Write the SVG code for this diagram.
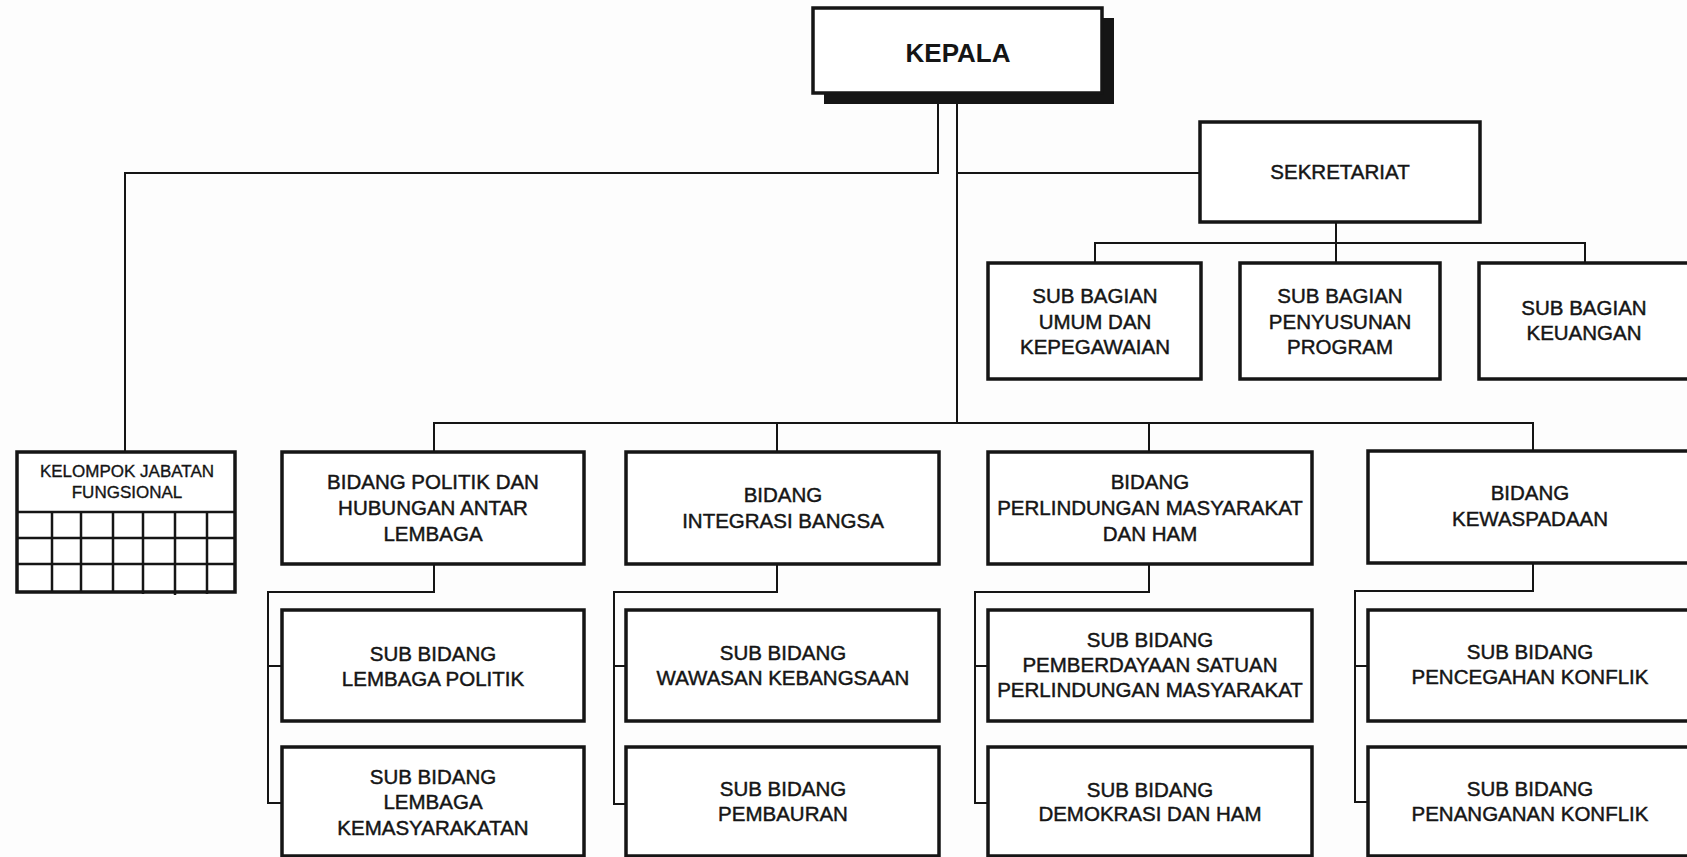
<svg xmlns="http://www.w3.org/2000/svg" width="1687" height="857" viewBox="0 0 1687 857">
<style>
.box{fill:#fff;stroke:#151515;stroke-width:3.5}
.ln{fill:none;stroke:#151515;stroke-width:2}
.grid{fill:none;stroke:#151515;stroke-width:2.5}
.t{font-family:"Liberation Sans",Arial,sans-serif;font-size:20.5px;fill:#151515;stroke:#151515;stroke-width:0.45;text-anchor:middle}
.ts{font-family:"Liberation Sans",Arial,sans-serif;font-size:17px;fill:#151515;stroke:#151515;stroke-width:0.35;text-anchor:middle}
.tb{font-family:"Liberation Sans",Arial,sans-serif;font-size:26px;font-weight:bold;fill:#151515;text-anchor:middle}
</style>
<rect width="1687" height="857" fill="#fdfdfd"/>
<g id="connectors">
<path class="ln" d="M938,93 V173 H125 V452"/>
<path class="ln" d="M957,104 V423"/>
<path class="ln" d="M957,173 H1200"/>
<path class="ln" d="M434,452 V423 H1533 V452 M777,423 V452 M1149,423 V452"/>
<path class="ln" d="M1336,222 V263 M1095,263 V243 H1585 V263"/>
<path class="ln" d="M434,564 V592 H268 V803 H283 M268,666 H283"/>
<path class="ln" d="M777,564 V592 H614 V804 H626 M614,666 H626"/>
<path class="ln" d="M1149,564 V592 H975 V803 H988 M975,666 H988"/>
<path class="ln" d="M1533,562 V591 H1355 V802 H1368 M1355,666 H1368"/>
</g>
<g id="kepala">
<rect x="824" y="18" width="290" height="86" fill="#151515"/>
<rect class="box" x="813" y="8" width="289" height="85"/>
<text class="tb" x="958" y="62">KEPALA</text>
</g>
<g id="sekretariat">
<rect class="box" x="1200" y="122" width="280" height="100"/>
<text class="t" x="1340" y="179">SEKRETARIAT</text>
</g>
<g id="sub-bagian-umum">
<rect class="box" x="988" y="263" width="213" height="116"/>
<text class="t" x="1095" y="303">SUB BAGIAN</text>
<text class="t" x="1095" y="328.5">UMUM DAN</text>
<text class="t" x="1095" y="354">KEPEGAWAIAN</text>
</g>
<g id="sub-bagian-penyusunan">
<rect class="box" x="1240" y="263" width="200" height="116"/>
<text class="t" x="1340" y="303">SUB BAGIAN</text>
<text class="t" x="1340" y="328.5">PENYUSUNAN</text>
<text class="t" x="1340" y="354">PROGRAM</text>
</g>
<g id="sub-bagian-keuangan">
<rect class="box" x="1479" y="263" width="215" height="116"/>
<text class="t" x="1584" y="315">SUB BAGIAN</text>
<text class="t" x="1584" y="340">KEUANGAN</text>
</g>
<g id="kelompok-jabatan">
<rect class="box" x="17" y="452" width="218" height="140"/>
<path class="grid" d="M17,512 H235 M17,538 H235 M17,564 H235 M52,512 V592 M81,512 V592 M113,512 V592 M143,512 V594 M175,512 V595 M207,512 V594"/>
<text class="ts" x="127" y="477">KELOMPOK JABATAN</text>
<text class="ts" x="127" y="498">FUNGSIONAL</text>
</g>
<g id="bidang-politik">
<rect class="box" x="282" y="452" width="302" height="112"/>
<text class="t" x="433" y="489">BIDANG POLITIK DAN</text>
<text class="t" x="433" y="515">HUBUNGAN ANTAR</text>
<text class="t" x="433" y="541">LEMBAGA</text>
</g>
<g id="bidang-integrasi">
<rect class="box" x="626" y="452" width="313" height="112"/>
<text class="t" x="783" y="502">BIDANG</text>
<text class="t" x="783" y="528">INTEGRASI BANGSA</text>
</g>
<g id="bidang-perlindungan">
<rect class="box" x="988" y="452" width="324" height="112"/>
<text class="t" x="1150" y="489">BIDANG</text>
<text class="t" x="1150" y="515">PERLINDUNGAN MASYARAKAT</text>
<text class="t" x="1150" y="541">DAN HAM</text>
</g>
<g id="bidang-kewaspadaan">
<rect class="box" x="1368" y="451" width="330" height="112"/>
<text class="t" x="1530" y="500">BIDANG</text>
<text class="t" x="1530" y="526">KEWASPADAAN</text>
</g>
<g id="sub-lembaga-politik">
<rect class="box" x="282" y="610" width="302" height="111"/>
<text class="t" x="433" y="661">SUB BIDANG</text>
<text class="t" x="433" y="686">LEMBAGA POLITIK</text>
</g>
<g id="sub-lembaga-kemasyarakatan">
<rect class="box" x="282" y="747" width="302" height="109"/>
<text class="t" x="433" y="784">SUB BIDANG</text>
<text class="t" x="433" y="809">LEMBAGA</text>
<text class="t" x="433" y="835">KEMASYARAKATAN</text>
</g>
<g id="sub-wawasan">
<rect class="box" x="626" y="610" width="313" height="111"/>
<text class="t" x="783" y="660">SUB BIDANG</text>
<text class="t" x="783" y="685">WAWASAN KEBANGSAAN</text>
</g>
<g id="sub-pembauran">
<rect class="box" x="626" y="747" width="313" height="109"/>
<text class="t" x="783" y="796">SUB BIDANG</text>
<text class="t" x="783" y="821">PEMBAURAN</text>
</g>
<g id="sub-pemberdayaan">
<rect class="box" x="988" y="610" width="324" height="111"/>
<text class="t" x="1150" y="647">SUB BIDANG</text>
<text class="t" x="1150" y="672">PEMBERDAYAAN SATUAN</text>
<text class="t" x="1150" y="697">PERLINDUNGAN MASYARAKAT</text>
</g>
<g id="sub-demokrasi">
<rect class="box" x="988" y="747" width="324" height="109"/>
<text class="t" x="1150" y="797">SUB BIDANG</text>
<text class="t" x="1150" y="821">DEMOKRASI DAN HAM</text>
</g>
<g id="sub-pencegahan">
<rect class="box" x="1368" y="610" width="330" height="111"/>
<text class="t" x="1530" y="659">SUB BIDANG</text>
<text class="t" x="1530" y="684">PENCEGAHAN KONFLIK</text>
</g>
<g id="sub-penanganan">
<rect class="box" x="1368" y="747" width="330" height="109"/>
<text class="t" x="1530" y="796">SUB BIDANG</text>
<text class="t" x="1530" y="821">PENANGANAN KONFLIK</text>
</g>
</svg>
